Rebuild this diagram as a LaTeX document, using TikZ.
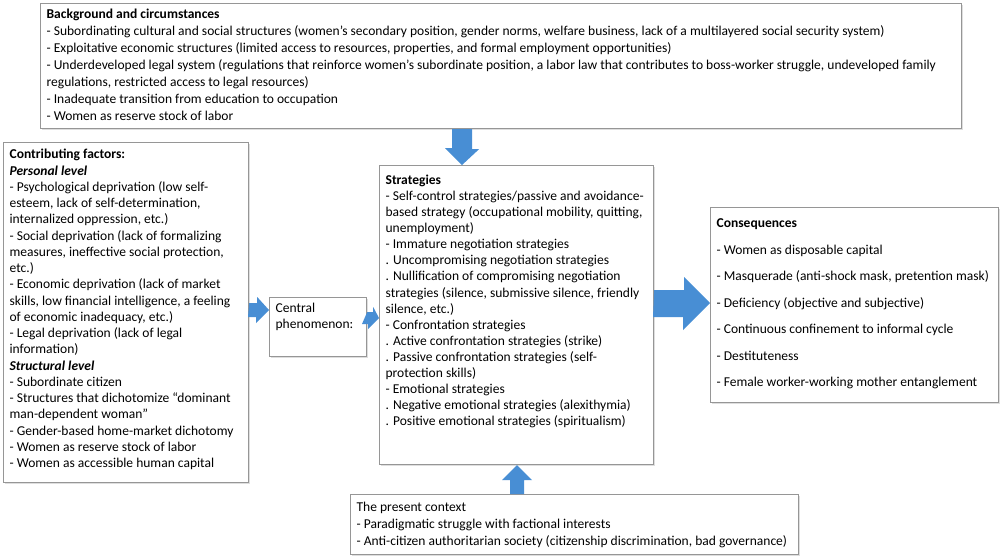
\documentclass[tikz,border=0pt]{standalone}
\usepackage{fontspec}
\setmainfont{Carlito}
\usetikzlibrary{shadows}
\definecolor{arrblue}{RGB}{72,142,212}
\definecolor{boxline}{RGB}{150,150,150}
\newcommand\boxtxt[3]{\begin{minipage}[t][#2][t]{#1}\raggedright #3\end{minipage}}
\begin{document}
\begin{tikzpicture}[x=0.02cm,y=-0.02cm,
  box/.style={draw=boxline, line width=0.7pt, fill=white, anchor=north west,
    inner xsep=0.12cm, inner ysep=0.1cm,
    drop shadow={shadow xshift=0.6pt, shadow yshift=-0.6pt, fill=black!25},
    font=\fontsize{7.7}{9.5}\selectfont},
  arr/.style={fill=arrblue, draw=none}]
\useasboundingbox[fill=white] (0,0) rectangle (1000,556);

\node[box] (top) at (40,3) {\boxtxt{18.18cm}{2.3cm}{%
\fontsize{7.7}{9.6}\selectfont
\vspace*{0.5pt}\textbf{Background and circumstances}\\
- Subordinating cultural and social structures (women's secondary position, gender norms, welfare business, lack of a multilayered social security system)\\
- Exploitative economic structures (limited access to resources, properties, and formal employment opportunities)\\
- Underdeveloped legal system (regulations that reinforce women's subordinate position, a labor law that contributes to boss-worker struggle, undeveloped family\\
regulations, restricted access to legal resources)\\
- Inadequate transition from education to occupation\\
- Women as reserve stock of labor}};

\node[box] (left) at (3,142) {\boxtxt{4.66cm}{6.6cm}{%
\fontsize{7.7}{9.25}\selectfont
\vspace*{1pt}\textbf{Contributing factors:}\\
\textbf{\textit{Personal level}}\\
- Psychological deprivation (low self-\\
esteem, lack of self-determination,\\
internalized oppression, etc.)\\
- Social deprivation (lack of formalizing\\
measures, ineffective social protection,\\
etc.)\\
- Economic deprivation (lack of market\\
skills, low financial intelligence, a feeling\\
of economic inadequacy, etc.)\\
- Legal deprivation (lack of legal\\
information)\\
\textbf{\textit{Structural level}}\\
- Subordinate citizen\\
- Structures that dichotomize ``dominant\\
man-dependent woman''\\
- Gender-based home-market dichotomy\\
- Women as reserve stock of labor\\
- Women as accessible human capital}};

\node[box] (central) at (269,297) {\boxtxt{1.7cm}{0.98cm}{%
Central\\
phenomenon:}};

\node[box] (strat) at (379,165) {\boxtxt{5.24cm}{5.78cm}{%
\fontsize{7.7}{9.15}\selectfont
\vspace*{2.5pt}\textbf{Strategies}\\
- Self-control strategies/passive and avoidance-\\
based strategy (occupational mobility, quitting,\\
unemployment)\\
- Immature negotiation strategies\\
. Uncompromising negotiation strategies\\
. Nullification of compromising negotiation\\
strategies (silence, submissive silence, friendly\\
silence, etc.)\\
- Confrontation strategies\\
. Active confrontation strategies (strike)\\
. Passive confrontation strategies (self-\\
protection skills)\\
- Emotional strategies\\
. Negative emotional strategies (alexithymia)\\
. Positive emotional strategies (spiritualism)}};

\node[box] (cons) at (710,207) {\boxtxt{5.52cm}{3.7cm}{%
\vspace*{3.5pt}\textbf{Consequences}\\[5.6pt]
- Women as disposable capital\\[5.6pt]
- Masquerade (anti-shock mask, pretention mask)\\[5.6pt]
- Deficiency (objective and subjective)\\[5.6pt]
- Continuous confinement to informal cycle\\[5.6pt]
- Destituteness\\[5.6pt]
- Female worker-working mother entanglement}};

\node[box] (bottom) at (350,494) {\boxtxt{8.72cm}{1.0cm}{%
\fontsize{7.7}{9.5}\selectfont
\vspace*{1.5pt}The present context\\
- Paradigmatic struggle with factional interests\\
- Anti-citizen authoritarian society (citizenship discrimination, bad governance)}};

% top -> strategies
\fill[arr] (462,0 |- top.south) ++(-10,0) -- ++(20,0) -- ++(0,20) -- ++(7,0)
  -- (462,0 |- strat.north) -- ++(-17,-17) -- ++(7,0) -- cycle;
% left -> central
\fill[arr] (left.east |- 0,310) ++(0,-7) -- ++(8,0) -- ++(0,-6)
  -- (central.west |- 0,310) -- ++(-13,13) -- ++(0,-6) -- ++(-8,0) -- cycle;
% central -> strategies
\fill[arr] (central.east |- 0,318) ++(0,-6) -- ++(6,0) -- ++(0,-5)
  -- (strat.west |- 0,318) -- ++(-11,11) -- ++(0,-5) -- ++(-6,0) -- cycle;
% strategies -> consequences
\fill[arr] (strat.east |- 0,303) ++(0,-13) -- ++(30,0) -- ++(0,-13)
  -- (cons.west |- 0,303) -- ++(-27,27) -- ++(0,-13) -- ++(-30,0) -- cycle;
% bottom -> strategies
\fill[arr] (517,0 |- bottom.north) ++(-7,0) -- ++(0,-14) -- ++(-8,0)
  -- (517,0 |- strat.south) -- ++(15,15) -- ++(-8,0) -- ++(0,14) -- cycle;
\end{tikzpicture}
\end{document}
